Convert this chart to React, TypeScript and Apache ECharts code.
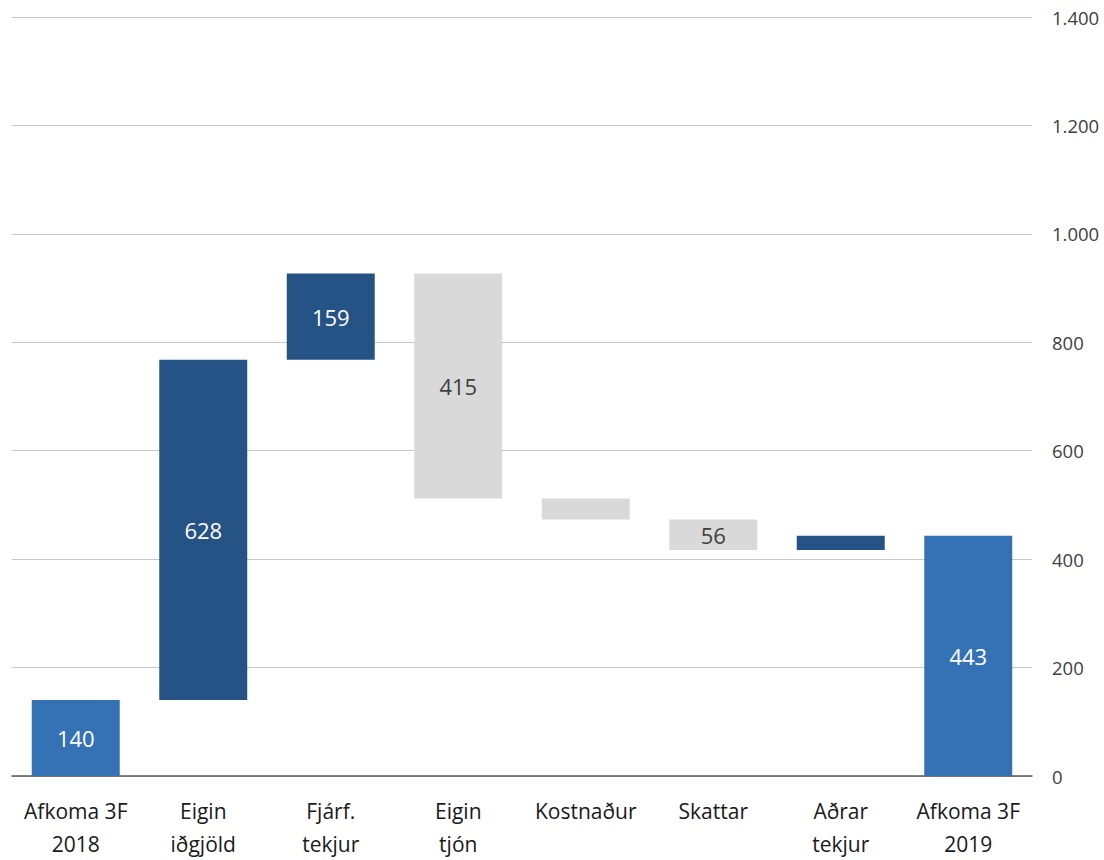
import React, { useEffect, useRef } from "react";
import * as echarts from "echarts";

const categories = [
  "Afkoma 3F\n2018",
  "Eigin\niðgjöld",
  "Fjárf.\ntekjur",
  "Eigin\ntjón",
  "Kostnaður",
  "Skattar",
  "Aðrar\ntekjur",
  "Afkoma 3F\n2019",
];
// changes; first and last are totals
const changes = [140, 628, 159, -415, -39, -56, 26, 443];
const kinds = ["total", "up", "up", "down", "down", "down", "up", "total"];
const showLabel = [true, true, true, true, false, true, false, true];
const yTicks = [0, 200, 400, 600, 800, 1000, 1200, 1400];

const COLORS: Record<string, string> = {
  total: "#3572b5",
  up: "#255386",
  down: "#d9d9d9",
};

export default function App() {
  const ref = useRef<HTMLDivElement>(null);
  useEffect(() => {
    if (!ref.current) return;
    const chart = echarts.init(ref.current, undefined, { renderer: "svg" });
    const base: number[] = [];
    const heights: number[] = [];
    let running = 0;
    changes.forEach((v, i) => {
      if (kinds[i] === "total") {
        base.push(0);
        heights.push(v);
        running = v;
      } else if (v >= 0) {
        base.push(running);
        heights.push(v);
        running += v;
      } else {
        running += v;
        base.push(running);
        heights.push(-v);
      }
    });
    const font = "'Open Sans', sans-serif";
    chart.setOption({
      animation: false,
      grid: { left: 12, right: 72, top: 17, bottom: 75 },
      xAxis: {
        type: "category",
        data: categories,
        axisTick: { show: false },
        axisLine: { lineStyle: { color: "#595959", width: 1.5 } },
        axisLabel: {
          color: "#1a1a1a",
          fontFamily: font,
          fontSize: 21,
          lineHeight: 33,
          margin: 18,
          interval: 0,
        },
      },
      yAxis: {
        type: "value",
        position: "right",
        min: yTicks[0],
        max: yTicks[yTicks.length - 1],
        interval: 200,
        splitLine: { lineStyle: { color: "#c8c8c8", width: 1 } },
        axisLine: { show: false },
        axisTick: { show: false },
        axisLabel: {
          color: "#404040",
          fontFamily: font,
          fontSize: 18.5,
          margin: 20,
          align: "left",
          formatter: (v: number) =>
            String(v).replace(/\B(?=(\d{3})+(?!\d))/g, "."),
        },
      },
      series: [
        {
          type: "bar",
          stack: "w",
          data: base,
          itemStyle: { color: "transparent" },
          barWidth: "69%",
          silent: true,
        },
        {
          type: "bar",
          stack: "w",
          barWidth: "69%",
          data: heights.map((h, i) => ({
            value: h,
            itemStyle: { color: COLORS[kinds[i]] },
            label: {
              show: showLabel[i],
              position: "inside",
              formatter: String(Math.abs(changes[i])),
              color: kinds[i] === "down" ? "#404040" : "#ffffff",
              fontFamily: font,
              fontSize: 22,
            },
          })),
        },
      ],
    });
    return () => chart.dispose();
  }, []);
  return (
    <div
      ref={ref}
      style={{ position: "absolute", left: 0, top: 0, width: 1104, height: 860 }}
    />
  );
}
